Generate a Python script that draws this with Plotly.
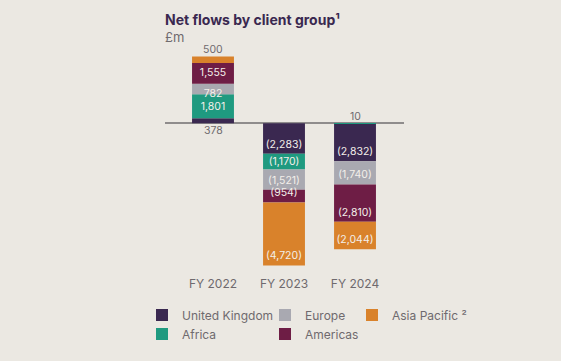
import plotly.graph_objects as go

years = ["FY 2022", "FY 2023", "FY 2024"]
uk = [378, -2283, -2832]
africa = [1801, -1170, 10]
europe = [782, -1521, -1740]
americas = [1555, -954, -2810]
apac = [500, -4720, -2044]

series = [
    ("United Kingdom", uk, "#3a2850", "legend", "end"),
    ("Africa", africa, "#1f9a80", "legend", "middle"),
    ("Europe", europe, "#a9a9b1", "legend2", "end"),
    ("Americas", americas, "#6e1d45", "legend2", "end"),
    ("Asia Pacific ²", apac, "#d9822b", "legend3", "end"),
]

W, H = 561, 361
L, R, T, B = 165, 157, 50, 87
scale = 73.6  # units per pixel
zero_px = 124.7
ytop = (zero_px - T) * scale
ybot = ytop - (H - T - B) * scale

def fmt(v):
    return f"({abs(v):,})" if v < 0 else f"{v:,}"

BG = "#ebe8e2"
GREY = "#6f6a6e"
FONT = "Inter, Open Sans, sans-serif"

fig = go.Figure()
for name, vals, color, lg, anchor in series:
    pos = []
    for i, v in enumerate(vals):
        if (name == "United Kingdom" and i == 0) or (name.startswith("Asia") and i == 0) or (name == "Africa" and i == 2):
            pos.append("none")
        else:
            pos.append("inside")
    fig.add_trace(go.Bar(
        x=years, y=vals, name=name, legend=lg,
        marker=dict(color=color, line=dict(width=0)),
        text=[fmt(v) for v in vals], textposition=pos,
        insidetextanchor=anchor, textangle=0,
        textfont=dict(color="#f3efea", size=10.5, family=FONT),
        width=0.59,
    ))

fig.add_annotation(x=years[0], y=0, text=fmt(uk[0]), showarrow=False, yshift=-7,
                   font=dict(color=GREY, size=10.5, family=FONT))
top22 = sum(s[1][0] for s in series if s[1][0] > 0)
fig.add_annotation(x=years[0], y=top22, text=fmt(apac[0]), showarrow=False, yshift=7,
                   font=dict(color=GREY, size=10.5, family=FONT))
fig.add_annotation(x=years[2], y=africa[2], text=fmt(africa[2]), showarrow=False, yshift=7,
                   font=dict(color=GREY, size=10.5, family=FONT))

ph = H - T - B
def py(pixel):
    return (H - B - pixel) / ph
def px(pixel):
    return (pixel - L) / (W - L - R)

fig.add_annotation(xref="paper", yref="paper", x=px(163), y=py(19),
                   xanchor="left", yanchor="middle", showarrow=False,
                   text="<b>Net flows by client group¹</b>",
                   font=dict(color="#3a2850", size=14, family=FONT))
fig.add_annotation(xref="paper", yref="paper", x=px(163), y=py(37),
                   xanchor="left", yanchor="middle", showarrow=False,
                   text="£m", font=dict(color=GREY, size=13, family=FONT))

legend_common = dict(orientation="v", yanchor="top", xanchor="left",
                     font=dict(color=GREY, size=12, family=FONT),
                     bgcolor="rgba(0,0,0,0)", tracegroupgap=0, itemclick=False)
fig.update_layout(
    width=W, height=H,
    margin=dict(l=L, r=R, t=T, b=B),
    paper_bgcolor=BG, plot_bgcolor=BG,
    barmode="relative",
    uniformtext=dict(minsize=10.5, mode="show"),
    font=dict(family=FONT, color=GREY),
    xaxis=dict(range=[-0.676, 2.69], showgrid=False, showline=False, ticks="",
               ticklabelstandoff=5,
               tickfont=dict(color=GREY, size=12, family=FONT), fixedrange=True),
    yaxis=dict(range=[ybot, ytop], showgrid=False, showticklabels=False, showline=False,
               zeroline=True, zerolinecolor="#8f8c8c", zerolinewidth=1.5, fixedrange=True),
    legend=dict(x=px(142), y=py(305), **legend_common),
    legend2=dict(x=px(265), y=py(305), **legend_common),
    legend3=dict(x=px(352), y=py(305), **legend_common),
    showlegend=True,
)

fig.write_html("out.html", config={"displayModeBar": False},
               post_script="document.body.style.margin='0';document.body.style.background='%s';" % BG)
